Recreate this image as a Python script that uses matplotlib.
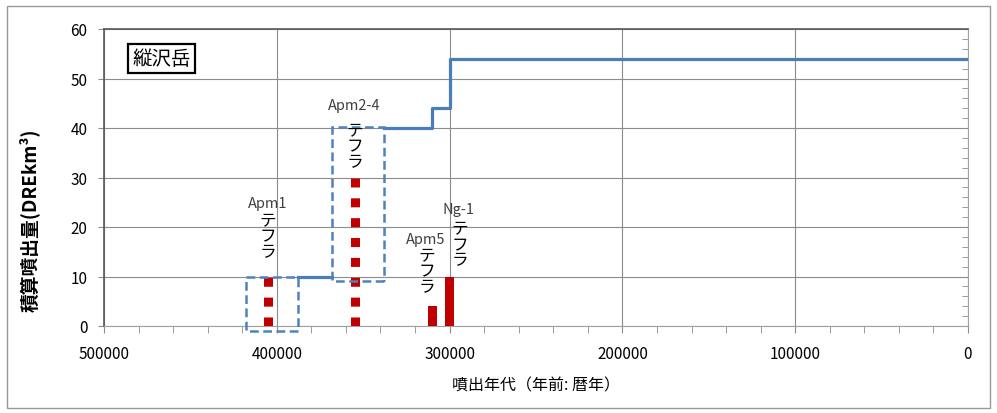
import numpy as np
import matplotlib.pyplot as plt
from matplotlib.patches import Rectangle
from matplotlib.ticker import MultipleLocator

plt.rcParams['font.family'] = ['Noto Sans CJK JP', 'DejaVu Sans']

# テフラ (噴出年代 [年前], 噴出量 [DREkm3])
tephra_names = ['Apm1', 'Apm2-4', 'Apm5', 'Ng-1']
tephra_age = [405000, 355000, 310000, 300000]
tephra_vol = [10, 30, 4, 10]
tephra_dashed = [True, True, False, False]

# 積算噴出量 (NaN = 枠の中は線なし)
cum_age = [388000, 368000, np.nan, 338000, 310000, 310000, 300000, 300000, 0]
cum_vol = [10, 10, np.nan, 40, 40, 44, 44, 54, 54]

# 不確実な範囲の枠 (年代 古い-新しい, 量 下-上)
box_age = [(418000, 388000), (368000, 338000)]
box_vol = [(-1.0, 9.9), (9.0, 40.2)]

x_ticks = [500000, 400000, 300000, 200000, 100000, 0]
y_ticks = [0, 10, 20, 30, 40, 50, 60]

# ラベル配置 (年代からのずれ, 高さ)
name_dx = [0, 0, 4000, -4900]
name_y = [24.8, 44.6, 17.6, 23.6]
kana_dx = [0, 0, 3000, -6000]
kana_top = [23.0, 41.2, 15.9, 21.3]

red = '#C00000'
blue = '#4A7EBB'

fig = plt.figure(figsize=(9.97, 4.14), dpi=100)
ax = fig.add_axes([104 / 997, 1 - 327 / 414, 864 / 997, 297 / 414])

# 積算噴出量
ax.plot(cum_age, cum_vol, color=blue, lw=2.3, zorder=3)

# 噴出量 (点線 = 不確実)
for age, vol, dashed in zip(tephra_age, tephra_vol, tephra_dashed):
    if dashed:
        ax.plot([age, age], [0, vol], color=red, lw=6.5,
                ls=(0, (1.0, 1.2)), dash_capstyle='butt', zorder=4)
    else:
        ax.bar(age, vol, width=5000, color=red, zorder=4)

# 枠
for (a0, a1), (v0, v1) in zip(box_age, box_vol):
    ax.add_patch(Rectangle((a1, v0), a0 - a1, v1 - v0, fill=False,
                           ec='#4F81BD', lw=1.8, ls=(0, (3.5, 1.8)),
                           clip_on=False, zorder=5))

# テフラ名
for i, name in enumerate(tephra_names):
    ax.text(tephra_age[i] + name_dx[i], name_y[i], name, ha='center', va='center',
            fontsize=10.5, color='#404040', zorder=6)
    ax.text(tephra_age[i] + kana_dx[i], kana_top[i], 'テ\nフ\nラ', ha='center', va='top',
            fontsize=12, linespacing=0.88, color='black', zorder=6)

ax.text(0.0665, 0.90, '縦沢岳', transform=ax.transAxes, ha='center', va='center',
        fontsize=14, bbox=dict(boxstyle='square,pad=0.22', fc='white', ec='black', lw=1.6),
        zorder=7)

ax.set_xlim(500000, 0)
ax.set_ylim(0, 60)
ax.set_xticks(x_ticks)
ax.set_xticklabels([str(t) for t in x_ticks])
ax.set_yticks(y_ticks)
ax.xaxis.set_minor_locator(MultipleLocator(20000))
ax.yaxis.set_minor_locator(MultipleLocator(2))

ax.grid(True, which='major', color='#8C8C8C', lw=0.8)
ax.set_axisbelow(True)
ax.tick_params(axis='x', which='both', direction='out', length=5, color='#8C8C8C',
               labelsize=11, pad=9)
ax.tick_params(axis='y', which='major', direction='out', length=4, color='#8C8C8C',
               labelsize=11, pad=8)
ax.tick_params(axis='y', which='minor', left=False, right=True, direction='in',
               length=4, color='#8C8C8C')
for s in ['top', 'left']:
    ax.spines[s].set_color('#595959')
    ax.spines[s].set_linewidth(1.2)
for s in ['bottom', 'right']:
    ax.spines[s].set_color('#A0A0A0')

ax.set_xlabel('噴出年代（年前: 暦年）', fontsize=11.5, labelpad=10)
ax.set_ylabel('積算噴出量(DREkm³)', fontsize=13.5, fontweight='bold')
ax.yaxis.set_label_coords(-0.074, 0.36)

# 外枠
fig.patches.append(Rectangle((7 / 997, 5 / 414), 983 / 997, 402 / 414,
                             transform=fig.transFigure, fill=False,
                             ec='#999999', lw=1))

fig.savefig('out.png', dpi=100)
